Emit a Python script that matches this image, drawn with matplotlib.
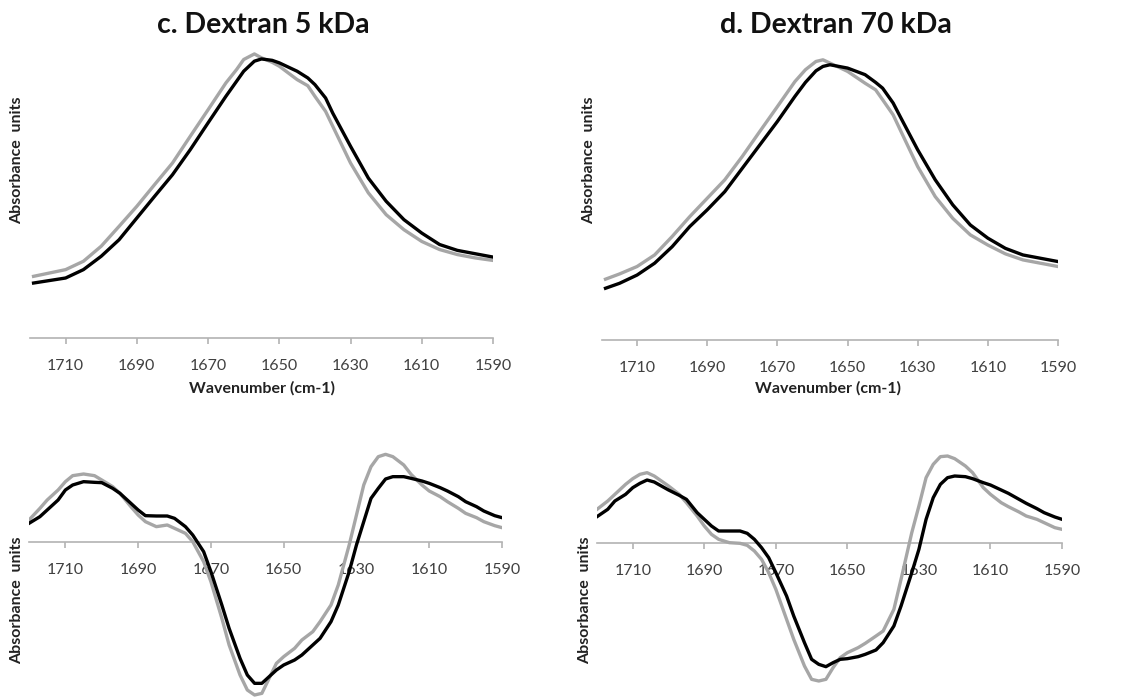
import matplotlib.pyplot as plt

plt.rcParams['font.family'] = ['Lato', 'DejaVu Sans']

# Panel titles
TITLES = ["c. Dextran 5 kDa", "d. Dextran 70 kDa"]
TICKS = [1710, 1690, 1670, 1650, 1630, 1610, 1590]

# Absorbance spectra (arbitrary units), panel c
wn_top_c = [1719, 1710, 1705, 1700, 1695, 1690, 1685, 1680, 1675, 1670, 1665, 1662, 1660, 1657,
            1655, 1652, 1650, 1645, 1642, 1640, 1637, 1635, 1630, 1625, 1620, 1615, 1610, 1605,
            1600, 1595, 1590]
abs_black_c = [19.7, 21.5, 24.5, 29.3, 35.2, 43.0, 50.8, 58.5, 67.5, 77.1, 86.6, 92.0, 95.6, 99.2,
               100.0, 99.5, 98.6, 95.6, 93.2, 90.8, 86.0, 80.6, 68.7, 57.3, 49.0, 42.4, 37.6, 33.5,
               31.4, 30.2, 29.0]
abs_grey_c = [22.1, 24.5, 27.5, 32.9, 40.0, 47.2, 55.0, 62.7, 72.3, 81.8, 91.4, 96.2, 99.8, 101.8,
              100.4, 98.8, 97.4, 92.6, 90.4, 86.6, 81.2, 75.9, 62.7, 52.0, 44.2, 38.8, 34.6, 31.7,
              29.9, 28.7, 27.8]

# Absorbance spectra, panel d
wn_top_d = [1719, 1715, 1710, 1705, 1700, 1695, 1690, 1685, 1680, 1675, 1670, 1665, 1662, 1659,
            1657, 1655, 1650, 1645, 1642, 1640, 1637, 1635, 1630, 1625, 1620, 1615, 1610, 1605,
            1600, 1595, 1590]
abs_black_d = [18.8, 20.6, 23.6, 27.9, 33.9, 41.2, 47.3, 53.9, 62.4, 70.9, 79.4, 88.5, 93.6, 97.8,
               99.4, 100.0, 98.8, 96.4, 93.6, 91.5, 86.1, 81.2, 69.1, 58.2, 49.1, 41.8, 37.0, 33.3,
               30.9, 29.7, 28.5]
abs_grey_d = [22.1, 24.0, 26.7, 30.9, 37.6, 44.8, 51.5, 58.2, 66.7, 75.8, 84.8, 93.9, 98.2, 101.2,
              101.8, 100.6, 97.6, 93.3, 90.9, 87.3, 81.8, 76.4, 63.0, 52.1, 44.2, 38.2, 34.5, 31.3,
              29.1, 27.9, 26.7]

# Second derivative spectra, panel c
wn_bot_c = [1720, 1717, 1715, 1712, 1710, 1708, 1705, 1702, 1700, 1697, 1695, 1692, 1690, 1688,
            1685, 1682, 1680, 1677, 1675, 1672, 1670, 1667, 1665, 1662, 1660, 1658, 1656, 1654,
            1652, 1650, 1647, 1645, 1642, 1640, 1637, 1635, 1632, 1630, 1628, 1626, 1624, 1622,
            1620, 1617, 1615, 1612, 1610, 1607, 1605, 1602, 1600, 1597, 1595, 1592, 1590]
d2_black_c = [0.55, 0.75, 0.95, 1.25, 1.55, 1.70, 1.80, 1.78, 1.77, 1.60, 1.45, 1.15, 0.95, 0.78,
              0.77, 0.77, 0.70, 0.45, 0.20, -0.30, -0.90, -1.90, -2.60, -3.50, -4.00, -4.25, -4.25,
              -4.05, -3.85, -3.70, -3.55, -3.40, -3.10, -2.90, -2.40, -1.90, -0.90, -0.10, 0.60,
              1.30, 1.60, 1.88, 1.95, 1.95, 1.90, 1.82, 1.75, 1.62, 1.52, 1.35, 1.20, 1.05, 0.92,
              0.78, 0.72]
d2_grey_c = [0.65, 1.00, 1.25, 1.55, 1.80, 1.98, 2.03, 1.98, 1.85, 1.65, 1.45, 1.05, 0.80, 0.60,
             0.45, 0.50, 0.40, 0.25, 0.00, -0.60, -1.20, -2.30, -3.10, -4.00, -4.45, -4.60, -4.55,
             -4.10, -3.65, -3.45, -3.20, -2.95, -2.70, -2.40, -1.90, -1.30, -0.10, 0.80, 1.70,
             2.25, 2.55, 2.62, 2.55, 2.30, 2.02, 1.70, 1.52, 1.35, 1.20, 1.00, 0.85, 0.72, 0.60,
             0.48, 0.42]

# Second derivative spectra, panel d
wn_bot_d = [1720, 1717, 1715, 1712, 1710, 1708, 1706, 1704, 1702, 1700, 1697, 1695, 1692, 1690,
            1688, 1686, 1683, 1680, 1678, 1676, 1674, 1672, 1670, 1667, 1665, 1662, 1660, 1658,
            1656, 1654, 1652, 1650, 1647, 1645, 1642, 1640, 1637, 1635, 1632, 1630, 1628, 1626,
            1624, 1622, 1620, 1617, 1615, 1612, 1610, 1607, 1605, 1602, 1600, 1597, 1595, 1592,
            1590]
d2_black_d = [0.80, 1.02, 1.27, 1.47, 1.67, 1.80, 1.90, 1.84, 1.72, 1.60, 1.44, 1.32, 0.92, 0.72,
              0.52, 0.37, 0.37, 0.37, 0.30, 0.12, -0.13, -0.43, -0.88, -1.58, -2.18, -2.98, -3.48,
              -3.63, -3.70, -3.58, -3.48, -3.46, -3.40, -3.33, -3.20, -2.98, -2.48, -1.88, -0.88,
              -0.18, 0.72, 1.37, 1.77, 1.97, 2.02, 2.00, 1.94, 1.82, 1.75, 1.60, 1.50, 1.32, 1.20,
              1.04, 0.92, 0.79, 0.72]
d2_grey_d = [1.02, 1.27, 1.47, 1.77, 1.94, 2.07, 2.12, 2.02, 1.87, 1.72, 1.47, 1.22, 0.82, 0.52,
             0.27, 0.12, 0.02, 0.00, -0.06, -0.23, -0.48, -0.88, -1.38, -2.28, -2.88, -3.68, -4.08,
             -4.13, -4.08, -3.73, -3.43, -3.28, -3.13, -3.00, -2.78, -2.63, -1.98, -1.08, 0.32,
             1.12, 1.97, 2.37, 2.60, 2.62, 2.54, 2.32, 2.12, 1.67, 1.47, 1.22, 1.10, 0.94, 0.82,
             0.72, 0.62, 0.47, 0.42]

GREY = "#a6a6a6"
AXIS_GREY = "#b3b3b3"
LW = 2.4

W, H = 1129, 700
fig = plt.figure(figsize=(W / 100, H / 100), dpi=100)


def add_axes_px(x0, x1, ytop, ybot):
    return fig.add_axes([x0 / W, 1 - ybot / H, (x1 - x0) / W, (ybot - ytop) / H])


def style(ax, ylim):
    ax.set_xlim(1720, 1590)
    ax.set_ylim(*ylim)
    for s in ["top", "right", "left"]:
        ax.spines[s].set_visible(False)
    ax.spines["bottom"].set_position(("data", 0))
    ax.spines["bottom"].set_color(AXIS_GREY)
    ax.spines["bottom"].set_linewidth(1.2)
    ax.set_yticks([])
    ax.set_xticks(TICKS)
    ax.tick_params(axis="x", direction="out", length=4, width=1.2, color=AXIS_GREY,
                   labelsize=11.5, labelcolor="#404040", pad=11)
    ax.patch.set_alpha(0)


# top row: absorbance
ax_tc = add_axes_px(30, 493, 45, 338)
ax_td = add_axes_px(602, 1058, 51, 340)
ax_tc.plot(wn_top_c, abs_grey_c, color=GREY, lw=LW, zorder=3)
ax_tc.plot(wn_top_c, abs_black_c, color="black", lw=LW, zorder=4)
ax_td.plot(wn_top_d, abs_grey_d, color=GREY, lw=LW, zorder=3)
ax_td.plot(wn_top_d, abs_black_d, color="black", lw=LW, zorder=4)
style(ax_tc, (0, 105))
style(ax_td, (0, 105))

# bottom row: second derivative
ax_bc = add_axes_px(29, 502, 440, 700)
ax_bd = add_axes_px(597, 1062, 440, 700)
ax_bc.plot(wn_bot_c, d2_grey_c, color=GREY, lw=LW, zorder=3)
ax_bc.plot(wn_bot_c, d2_black_c, color="black", lw=LW, zorder=4)
ax_bd.plot(wn_bot_d, d2_grey_d, color=GREY, lw=LW, zorder=3)
ax_bd.plot(wn_bot_d, d2_black_d, color="black", lw=LW, zorder=4)
style(ax_bc, (-4.75, 3.05))
style(ax_bd, (-4.7, 3.1))

# titles and labels in figure pixel coordinates
def ftext(x, y, s, **kw):
    fig.text(x / W, 1 - y / H, s, ha="center", va="center", **kw)

ftext(263, 25, TITLES[0], fontsize=20.5, fontweight="bold", color="#111111")
ftext(836, 25, TITLES[1], fontsize=20.5, fontweight="bold", color="#111111")
ftext(262, 388, "Wavenumber (cm-1)", fontsize=11.5, fontweight="bold", color="#222222")
ftext(828, 388, "Wavenumber (cm-1)", fontsize=11.5, fontweight="bold", color="#222222")
for x, y in [(17, 160), (589, 160), (17, 600), (585, 600)]:
    ftext(x, y, "Absorbance  units", fontsize=11.5, fontweight="bold", color="#222222",
          rotation=90)

fig.savefig("out.png", dpi=100)
